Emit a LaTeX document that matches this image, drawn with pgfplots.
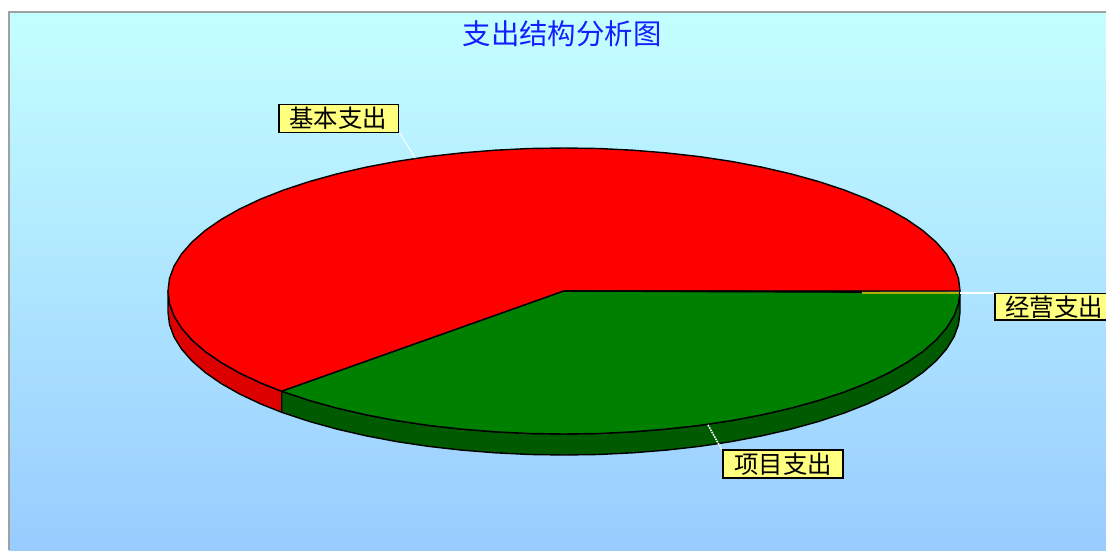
\documentclass[border=0pt]{standalone}
\usepackage{fontspec}
\usepackage{pgfplots}
\pgfplotsset{compat=1.18}
\newfontfamily\cjk{Noto Sans CJK SC}
\definecolor{bgtop}{HTML}{C4FFFF}
\definecolor{bgbot}{HTML}{99CCFF}
\definecolor{redwall}{HTML}{DD0000}
\definecolor{greenmain}{HTML}{008000}
\definecolor{greenwall}{HTML}{005A00}
\definecolor{labelbg}{HTML}{FFFF80}
\definecolor{frameg}{HTML}{A0A0A0}
\definecolor{slice}{HTML}{B0B000}
\begin{document}
\begin{tikzpicture}
\begin{axis}[
  scale only axis, width=1106pt, height=550pt,
  xmin=0, xmax=1106, ymin=0, ymax=550,
  axis lines=none, ticks=none,
]
% background
\fill[white] (axis cs:0,0) rectangle (axis cs:1106,550);
\fill[top color=bgtop, bottom color=bgbot] (axis cs:9,0) rectangle (axis cs:1106,538);
\addplot[draw=frameg, line width=2pt] coordinates {(9,0) (9,538) (1106,538)};

% side walls
\addplot[fill=redwall, draw=black, line width=1.4pt, line join=round] coordinates {
(168,259)(169.5,246.5)(174,234.2)(181.5,222)(191.9,210.1)(205.1,198.6)(221.1,187.5)(239.6,177)(260.6,167.1)(281.7,158.7)
(281.7,137.7)(260.6,146.1)(239.6,156)(221.1,166.5)(205.1,177.6)(191.9,189.1)(181.5,201)(174,213.2)(169.5,225.5)(168,238)
} -- cycle;
\addplot[fill=greenwall, draw=black, line width=1.4pt, line join=round] coordinates {
(281.7,158.7)(309.5,149.5)(336.9,141.9)(366,135.2)(396.6,129.4)(428.6,124.6)(461.5,120.9)(495.2,118.2)(529.5,116.5)(564,116)
(598.5,116.5)(632.8,118.2)(666.5,120.9)(699.4,124.6)(731.4,129.4)(762,135.2)(791.1,141.9)(818.5,149.5)(844,157.9)(867.4,167.1)
(888.4,177)(906.9,187.5)(922.9,198.6)(936.1,210.1)(946.5,222)(954,234.2)(958.5,246.5)(960,259)
(960,238)(958.5,225.5)(954,213.2)(946.5,201)(936.1,189.1)(922.9,177.6)(906.9,166.5)(888.4,156)(867.4,146.1)(844,136.9)
(818.5,128.5)(791.1,120.9)(762,114.2)(731.4,108.4)(699.4,103.6)(666.5,99.9)(632.8,97.2)(598.5,95.5)(564,95)
(529.5,95.5)(495.2,97.2)(461.5,99.9)(428.6,103.6)(396.6,108.4)(366,114.2)(336.9,120.9)(309.5,128.5)(281.7,137.7)
} -- cycle;

% red top
\addplot[fill=red, draw=black, line width=1.4pt, line join=round] coordinates {
(564,259)(960,259)(958.5,271.5)(954,283.8)(946.5,296)(936.1,307.9)(922.9,319.4)(906.9,330.5)(888.4,341)(867.4,350.9)(844,360.1)
(818.5,368.5)(791.1,376.1)(762,382.8)(731.4,388.6)(699.4,393.4)(666.5,397.1)(632.8,399.8)(598.5,401.5)(564,402)
(529.5,401.5)(495.2,399.8)(461.5,397.1)(428.6,393.4)(396.6,388.6)(366,382.8)(336.9,376.1)(309.5,368.5)(284,360.1)
(260.6,350.9)(239.6,341)(221.1,330.5)(205.1,319.4)(191.9,307.9)(181.5,296)(174,283.8)(169.5,271.5)(168,259)
(169.5,246.5)(174,234.2)(181.5,222)(191.9,210.1)(205.1,198.6)(221.1,187.5)(239.6,177)(260.6,167.1)(281.7,158.7)
} -- cycle;
% green top
\addplot[fill=greenmain, draw=black, line width=1.4pt, line join=round] coordinates {
(564,259)(281.7,158.7)(309.5,149.5)(336.9,141.9)(366,135.2)(396.6,129.4)(428.6,124.6)(461.5,120.9)(495.2,118.2)(529.5,116.5)(564,116)
(598.5,116.5)(632.8,118.2)(666.5,120.9)(699.4,124.6)(731.4,129.4)(762,135.2)(791.1,141.9)(818.5,149.5)(844,157.9)(867.4,167.1)
(888.4,177)(906.9,187.5)(922.9,198.6)(936.1,210.1)(946.5,222)(954,234.2)(958.5,246.5)(960,257.5)
} -- cycle;
% thin yellow slice
\addplot[draw=black, line width=1.6pt] coordinates {(564,259)(862,258.5)};
\addplot[draw=slice, line width=2pt] coordinates {(862,257)(959,257)};

% leaders
\addplot[draw=white, line width=1.4pt] coordinates {(960,257)(995,257)};
\addplot[draw=white, line width=1.6pt, densely dotted] coordinates {(400,417)(415,392)};
\addplot[draw=white, line width=1.6pt, densely dotted] coordinates {(708,125)(722,100)};

% label boxes
\addplot[fill=labelbg, draw=black, line width=1.3pt] coordinates {(279,445.7)(398.7,445.7)(398.7,417.7)(279,417.7)} -- cycle;
\addplot[fill=labelbg, draw=black, line width=1.3pt] coordinates {(723,100)(843,100)(843,72)(723,72)} -- cycle;
\addplot[fill=labelbg, draw=black, line width=1.3pt] coordinates {(995,256.7)(1120,256.7)(1120,230)(995,230)} -- cycle;

\node[anchor=center, text=black, inner sep=0pt] at (axis cs:338,431.7) {\fontsize{24.4}{26}\cjk\selectfont 基本支出};
\node[anchor=center, text=black, inner sep=0pt] at (axis cs:783,86) {\fontsize{24.4}{26}\cjk\selectfont 项目支出};
\node[anchor=center, text=black, inner sep=0pt] at (axis cs:1054,243) {\fontsize{24.4}{26}\cjk\selectfont 经营支出};
\node[anchor=center, text={rgb,255:red,20;green,30;blue,255}, inner sep=0pt] at (axis cs:562,516) {\fontsize{28.4}{30}\cjk\selectfont 支出结构分析图};
\end{axis}
\end{tikzpicture}
\end{document}
